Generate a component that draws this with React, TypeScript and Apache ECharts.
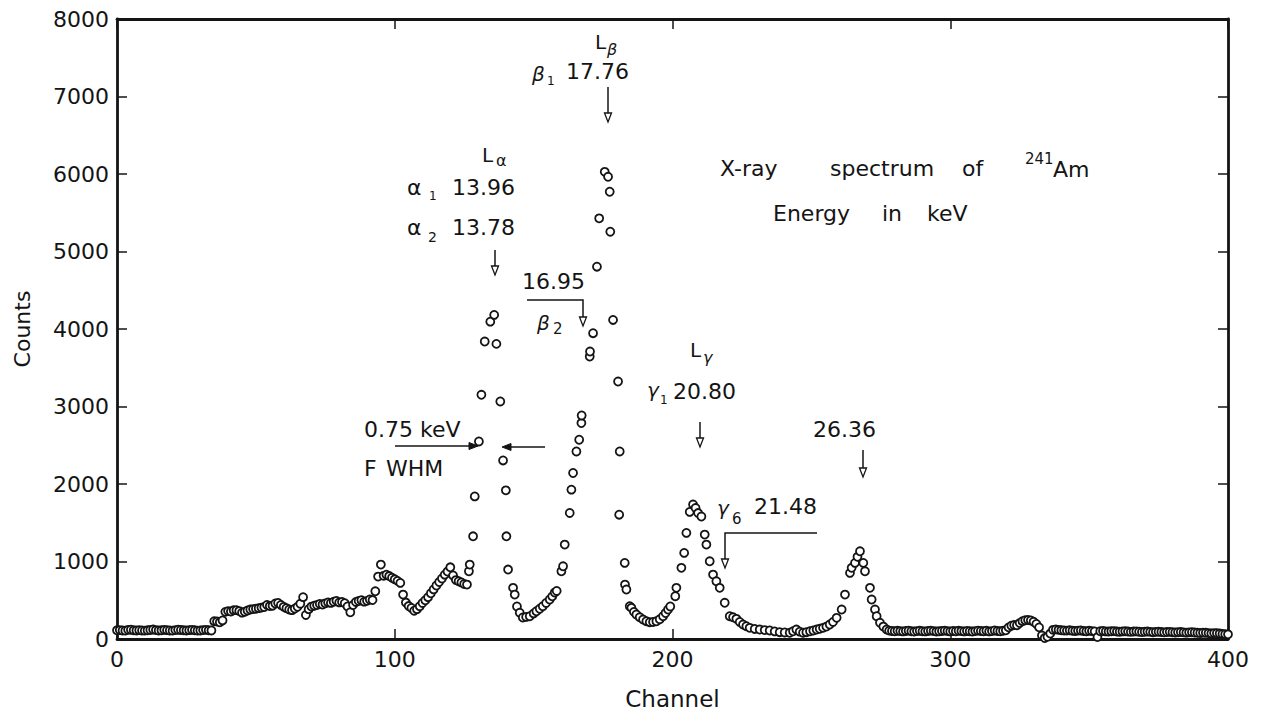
import React, { useEffect, useRef } from "react";
import * as echarts from "echarts";

// ---- axis ticks ----
const xTickStep = 100;
const yTickStep = 1000;
const xMax = 400;
const yMax = 8000;

// ---- data: counts per channel (background runs, one value per channel) ----
const bgLowStart = 0;
const bgLowCounts = [
  112, 115, 110, 108, 118, 120, 112, 110, 114, 110,
  108, 112, 116, 122, 115, 110, 112, 118, 114, 110,
  108, 115, 120, 116, 112, 110, 114, 118, 112, 108,
  110, 115, 118, 112, 110,
];

const rampStart = 35;
const rampCounts = [
  230, 225, 215, 240, 350, 360, 355, 370, 372, 360,
  340, 352, 368, 380, 386, 390, 398, 405, 412, 440,
  425, 430, 458, 465, 440, 415, 398, 380, 372, 392,
  415, 455, 540, 310, 385, 418, 430, 438, 452, 445,
  460, 472, 466, 480, 492, 472, 478, 462, 420, 345,
  438, 478, 490, 500, 482, 492, 510, 502, 616, 805,
  960, 815, 830, 812, 790, 770, 750, 724, 573, 470,
  425, 400, 365, 385, 423, 465, 500, 540, 590, 640,
  690, 735, 780, 830, 870, 925, 820, 760, 745, 730,
  710, 702,
];

// ---- peaks and valleys: [channel, counts] ----
const alphaPeak: [number, number][] = [
  [126.7, 874], [127.0, 960], [128.2, 1325], [128.8, 1840], [130.3, 2549],
  [131.2, 3151], [132.4, 3838], [134.4, 4095], [135.8, 4182], [136.6, 3808],
  [138.0, 3065], [139.0, 2304], [140.0, 1918], [140.2, 1325], [140.8, 896],
  [142.6, 660], [143.2, 573],
];
const alphaBetaValley: [number, number][] = [
  [144.0, 420], [145.0, 338], [146.1, 277], [147.3, 285], [148.6, 294],
  [150.0, 330], [151.0, 358], [152.2, 390], [153.3, 423], [154.5, 465],
  [155.8, 509], [156.7, 550], [157.6, 599], [158.3, 620],
];
const betaPeak: [number, number][] = [
  [160.0, 874], [160.6, 938], [161.2, 1218], [163.0, 1626], [163.6, 1927],
  [164.2, 2142], [165.4, 2420], [166.4, 2571], [167.2, 2786], [167.3, 2884],
  [170.2, 3644], [170.3, 3709], [171.4, 3946], [172.8, 4804], [173.6, 5428],
  [175.6, 6028], [176.8, 5964], [177.4, 5771], [177.6, 5255], [178.6, 4117],
  [180.4, 3322], [181.0, 2420], [180.8, 1604], [182.8, 982], [182.9, 702],
  [183.4, 638],
];
const betaGammaValley: [number, number][] = [
  [184.6, 423], [185.2, 402], [186.1, 350], [187.0, 316], [188.2, 280],
  [189.4, 251], [190.6, 230], [191.8, 217], [193.0, 220], [194.2, 229],
  [195.4, 255], [196.6, 294], [197.5, 335], [198.4, 380], [199.2, 420],
];
const gammaPeak: [number, number][] = [
  [201.0, 552], [201.4, 660], [203.2, 918], [204.2, 1111], [205.0, 1369],
  [206.2, 1640], [207.4, 1735], [208.3, 1690], [209.2, 1625], [210.4, 1580],
  [211.6, 1347], [212.2, 1218], [213.4, 1003], [214.6, 831], [215.8, 745],
  [217.0, 660], [218.8, 467], [220.6, 294], [221.8, 280], [223.0, 260],
];
const gammaValley: [number, number][] = [
  [224.2, 220], [225.4, 187], [226.6, 165], [227.8, 144], [229.6, 130],
  [231.4, 122], [233.2, 115], [235.0, 110], [236.8, 98], [238.6, 88],
  [240.4, 84], [242.2, 80], [243.4, 100], [244.6, 122], [245.8, 95],
  [247.0, 80], [248.2, 88], [249.5, 100], [250.7, 110], [251.9, 122],
  [253.0, 132], [254.2, 144], [255.4, 160], [256.6, 187], [257.8, 220],
  [259.1, 273],
];
const peak2636: [number, number][] = [
  [260.9, 380], [262.1, 573], [263.9, 853], [264.5, 918], [265.7, 982],
  [266.6, 1060], [267.5, 1132], [268.7, 982], [269.3, 874], [271.1, 660],
  [271.7, 509], [272.9, 380], [273.5, 294], [274.7, 209], [275.9, 160],
  [277.1, 122],
];

const bgHighStart = 278;
const bgHighCounts = [
  108, 104, 100, 106, 102, 98, 104, 108, 100, 96,
  102, 106, 100, 98, 104, 108, 102, 96, 100, 104,
  108, 102, 98, 104, 100, 106, 102, 98, 104, 100,
  96, 102, 108, 104, 100, 106, 98, 102, 110, 104,
  100, 106, 112,
  150, 172, 180, 178, 205, 230, 242, 246, 240, 222,
  195, 150, 45, 12, 28, 70, 118, 124, 118, 112,
  110, 108, 112, 106, 104, 108, 110, 104, 100, 106,
  102, 98, 25, 100, 104, 98, 96, 100, 102, 96,
  94, 98, 100, 96, 92, 96, 98, 94, 90, 94,
  96, 92, 88, 92, 94, 90, 86, 90, 92, 88,
  84, 88, 90, 86, 82, 86, 88, 84, 80, 78,
  82, 80, 76, 72, 76, 74, 70, 66, 62, 60,
];

const toPairs = (start: number, arr: number[]) => arr.map((v, i) => [start + i, v]);

const spectrum = [
  ...toPairs(bgLowStart, bgLowCounts),
  ...toPairs(rampStart, rampCounts),
  ...alphaPeak,
  ...alphaBetaValley,
  ...betaPeak,
  ...betaGammaValley,
  ...gammaPeak,
  ...gammaValley,
  ...peak2636,
  ...toPairs(bgHighStart, bgHighCounts),
];

// ---- styling ----
const INK = "#141414";
const FONT = "'DejaVu Sans', 'Noto Sans', sans-serif";

const txt = (text: string, x: number, y: number, size = 22, extra: any = {}) => ({
  type: "text",
  x,
  y,
  z: 20,
  style: {
    text,
    font: `${extra.italic ? "italic " : ""}${size}px ${FONT}`,
    fill: INK,
    align: extra.align || "left",
    verticalAlign: "middle",
  },
});

const seg = (x1: number, y1: number, x2: number, y2: number) => ({
  type: "line",
  z: 20,
  shape: { x1, y1, x2, y2 },
  style: { stroke: INK, lineWidth: 1.5 },
});

const headDown = (x: number, tip: number) => ({
  type: "polygon",
  z: 21,
  shape: { points: [[x - 3.5, tip - 9], [x + 3.5, tip - 9], [x, tip]] },
  style: { fill: "#fff", stroke: INK, lineWidth: 1.3 },
});
const headRight = (tip: number, y: number) => ({
  type: "polygon",
  z: 21,
  shape: { points: [[tip - 9, y - 3.5], [tip - 9, y + 3.5], [tip, y]] },
  style: { fill: INK, stroke: INK, lineWidth: 1 },
});
const headLeft = (tip: number, y: number) => ({
  type: "polygon",
  z: 21,
  shape: { points: [[tip + 9, y - 3.5], [tip + 9, y + 3.5], [tip, y]] },
  style: { fill: INK, stroke: INK, lineWidth: 1 },
});
const vArrow = (x: number, y1: number, y2: number) => [seg(x, y1, x, y2 - 8), headDown(x, y2)];

const annotations: any[] = [
  // L beta
  txt("L", 595, 42, 20),
  txt("β", 607, 49, 16, { italic: true }),
  txt("β", 532, 74, 20, { italic: true }),
  txt("1", 547, 81, 12),
  txt("17.76", 566, 71, 22),
  ...vArrow(608, 87, 122),
  // L alpha
  txt("L", 482, 155, 20),
  txt("α", 496, 160, 16),
  txt("α", 407, 187, 22),
  txt("1", 429, 196, 12),
  txt("13.96", 452, 187, 22),
  txt("α", 407, 227, 22),
  txt("2", 428, 237, 14),
  txt("13.78", 452, 227, 22),
  ...vArrow(495, 250, 275),
  // beta 2
  txt("16.95", 522, 281, 22),
  {
    type: "polyline",
    z: 20,
    shape: { points: [[527, 300], [583, 300], [583, 318]] },
    style: { stroke: INK, fill: "none", lineWidth: 1.5 },
  },
  headDown(583, 326),
  txt("β", 537, 323, 20, { italic: true }),
  txt("2", 553, 329, 15),
  // FWHM
  txt("0.75 keV", 364, 429, 22),
  seg(395, 446, 470, 446),
  headRight(478, 446),
  txt("F", 364, 468, 22),
  txt("WHM", 386, 468, 22),
  seg(545, 447, 510, 447),
  headLeft(502, 447),
  // L gamma
  txt("L", 690, 350, 20),
  txt("γ", 703, 357, 16, { italic: true }),
  txt("γ", 647, 390, 20, { italic: true }),
  txt("1", 660, 400, 12),
  txt("20.80", 673, 391, 22),
  ...vArrow(700, 422, 447),
  // 26.36
  txt("26.36", 813, 429, 22),
  ...vArrow(863, 450, 477),
  // gamma 6
  txt("γ", 717, 508, 20, { italic: true }),
  txt("6", 732, 519, 15),
  txt("21.48", 754, 506, 22),
  {
    type: "polyline",
    z: 20,
    shape: { points: [[817, 533], [725, 533], [725, 560]] },
    style: { stroke: INK, fill: "none", lineWidth: 1.5 },
  },
  headDown(725, 568),
  // title block
  txt("X-ray", 720, 168, 22),
  txt("spectrum", 830, 168, 22),
  txt("of", 962, 168, 22),
  txt("241", 1025, 159, 15),
  txt("Am", 1053, 169, 22),
  txt("Energy", 773, 213, 22),
  txt("in", 882, 213, 22),
  txt("keV", 927, 213, 22),
];

const axisLineStyle = { color: INK, width: 2.8 };
const tickStyle = { show: true, inside: true, length: 10, lineStyle: { color: INK, width: 1.5 } };
const labelStyle = { fontSize: 22, color: INK, fontFamily: FONT };

const option: any = {
  animation: false,
  backgroundColor: "#ffffff",
  grid: { left: 117, right: 37, top: 19, bottom: 80, containLabel: false },
  xAxis: [
    {
      type: "value",
      min: 0,
      max: xMax,
      interval: xTickStep,
      position: "bottom",
      axisLine: { show: true, onZero: false, lineStyle: axisLineStyle },
      axisTick: tickStyle,
      axisLabel: { ...labelStyle, margin: 9, formatter: (v: number) => String(v) },
      splitLine: { show: false },
      name: "Channel",
      nameLocation: "middle",
      nameGap: 48,
      nameTextStyle: { fontSize: 23, color: INK, fontFamily: FONT },
    },
    {
      type: "value",
      min: 0,
      max: xMax,
      interval: xTickStep,
      position: "top",
      axisLine: { show: true, onZero: false, lineStyle: axisLineStyle },
      axisTick: tickStyle,
      axisLabel: { show: false },
      splitLine: { show: false },
    },
  ],
  yAxis: [
    {
      type: "value",
      min: 0,
      max: yMax,
      interval: yTickStep,
      position: "left",
      axisLine: { show: true, onZero: false, lineStyle: axisLineStyle },
      axisTick: tickStyle,
      axisLabel: { ...labelStyle, margin: 8, formatter: (v: number) => String(v) },
      splitLine: { show: false },
      name: "Counts",
      nameLocation: "middle",
      nameRotate: 90,
      nameGap: 84,
      nameTextStyle: { fontSize: 22, color: INK, fontFamily: FONT },
    },
    {
      type: "value",
      min: 0,
      max: yMax,
      interval: yTickStep,
      position: "right",
      axisLine: { show: true, onZero: false, lineStyle: axisLineStyle },
      axisTick: tickStyle,
      axisLabel: { show: false },
      splitLine: { show: false },
    },
  ],
  series: [
    {
      type: "scatter",
      xAxisIndex: 0,
      yAxisIndex: 0,
      data: spectrum,
      symbol: "circle",
      symbolSize: 8,
      itemStyle: { color: "#ffffff", borderColor: INK, borderWidth: 1.8, opacity: 1 },
      emphasis: { disabled: true },
      silent: true,
      large: false,
    },
  ],
  graphic: { elements: annotations },
};

export default function App() {
  const ref = useRef<HTMLDivElement>(null);
  useEffect(() => {
    document.body.style.margin = "0";
    const chart = echarts.init(ref.current!, null, { renderer: "svg" });
    chart.setOption(option);
    return () => chart.dispose();
  }, []);
  return <div ref={ref} style={{ width: 1265, height: 719 }} />;
}
